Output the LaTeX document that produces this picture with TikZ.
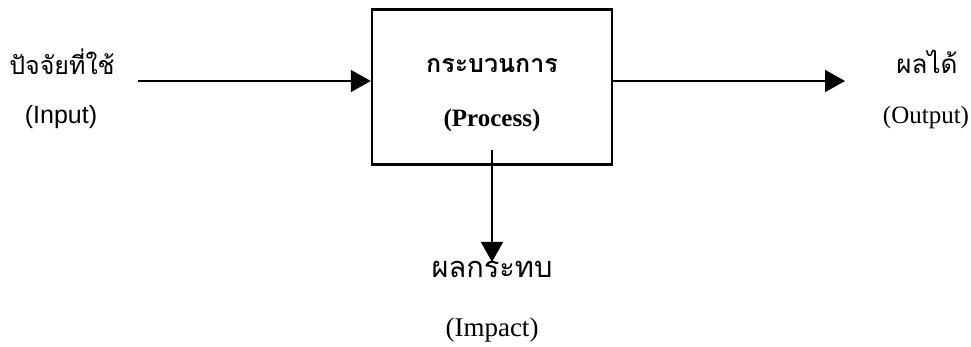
\documentclass[tikz,border=0pt]{standalone}
\usepackage{fontspec}
\setmainfont{Liberation Serif}
\newfontfamily\thaifont[Script=Thai]{Loma}
\newfontfamily\arialfont{Liberation Sans}
\usetikzlibrary{arrows.meta}

\begin{document}
\begin{tikzpicture}[x=1pt,y=-1pt,
    flow/.style={line width=1.8pt,-{Triangle[length=20pt,width=22pt]}},
    lbl/.style={inner sep=0pt}]
    \useasboundingbox (0,0) rectangle (971,347);
    % process box
    \node (proc) at (492,87) [draw,line width=2.4pt,minimum width=240,minimum height=155] {};
    \node (procth) at (492,66) [lbl]{\thaifont\bfseries\fontsize{25}{30}\selectfont กระบวนการ};
    \node (procen) at (492,120) [lbl]{\bfseries\fontsize{25}{30}\selectfont (Process)};
    % input
    \node (inth) at (62,62) [lbl]{\thaifont\fontsize{25}{30}\selectfont ปัจจัยที่ใช้};
    \node (inen) at (61,117) [lbl]{\arialfont\fontsize{25}{30}\selectfont (Input)};
    \coordinate (inarr) at (138,81);
    \draw[flow] (inarr) -- (inarr -| proc.west);
    % output
    \node (outth) at (927,62) [lbl]{\thaifont\fontsize{26}{30}\selectfont ผลได้};
    \node (outen) at (926,117) [lbl]{\fontsize{25}{30}\selectfont (Output)};
    \coordinate (outarr) at (845,81);
    \draw[flow] (inarr -| proc.east) -- (outarr);
    % impact
    \coordinate (impin) at (492,150);
    \coordinate (imparr) at (492,262);
    \draw[flow,line width=1.3pt] (impin) -- (imparr);
    \node (impth) at (492,269) [lbl]{\thaifont\fontsize{29}{34}\selectfont ผลกระทบ};
    \node (impen) at (492,330) [lbl]{\fontsize{27}{32}\selectfont (Impact)};
\end{tikzpicture}
\end{document}
